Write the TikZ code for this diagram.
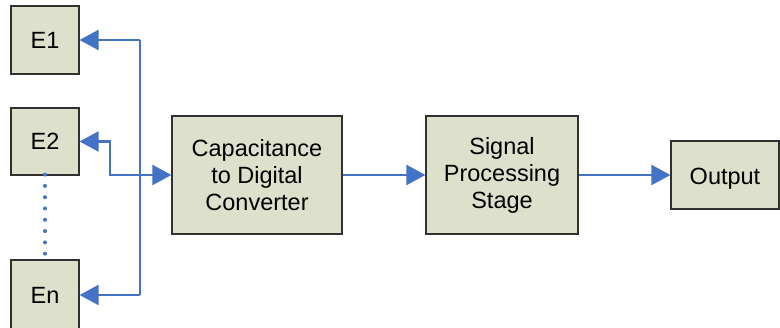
\documentclass[tikz,border=0pt]{standalone}
\usepackage{fontspec}
\setmainfont{Liberation Sans}
\usetikzlibrary{arrows.meta}
\definecolor{boxfill}{HTML}{DDE0CB}
\definecolor{boxedge}{HTML}{303030}
\definecolor{linkblue}{HTML}{4472C4}
\begin{document}
\begin{tikzpicture}[x=1pt,y=-1pt,
  blk/.style={draw=boxedge,line width=1.2pt,fill=boxfill,inner sep=0pt,align=center,
    font=\fontsize{23.5}{27}\selectfont},
  link/.style={draw=linkblue,line width=2.2pt},
  tip/.style={-{Triangle[length=19pt,width=20pt]}},
  tips/.style={{Triangle[length=19pt,width=20pt]}-{Triangle[length=19pt,width=20pt]}}]
\useasboundingbox (0,0) rectangle (780,328);
\clip (0,0) rectangle (780,328);
\node[blk,minimum width=68pt,minimum height=68pt] (e1) at (45,40) {E1};
\node[blk,minimum width=68pt,minimum height=67pt] (e2) at (45,141.5) {E2};
\node[blk,minimum width=68pt,minimum height=70pt] (en) at (45,295) {En};
\node[blk,minimum width=170pt,minimum height=118pt] (cdc) at (257,175) {Capacitance\\to Digital\\Converter};
\node[blk,minimum width=152pt,minimum height=118pt] (sps) at (502,175) {Signal\\Processing\\Stage};
\node[blk,minimum width=108pt,minimum height=68pt,text depth=0pt,yshift=0pt] (out) at (725,175) {\raisebox{-2pt}{Output}};
\coordinate (bt) at (140,40);
\coordinate (bb) at (140,295);
\coordinate (j) at (110,175);
\draw[link] (bt) -- (bb);
\draw[link,tip] (bt) -- (e1.east);
\draw[link,tip] (bb) -- (en.east);
\draw[link,tips] (e2.east) -| (j) -- (cdc.west);
\draw[link,tip] (cdc.east) -- (sps.west);
\draw[link,tip] (sps.east) -- (out.west);
\draw[linkblue,line width=4pt,line cap=round,dash pattern=on 0pt off 11.3pt] ([yshift=1pt]e2.south) -- ([yshift=-4pt]en.north);
\end{tikzpicture}
\end{document}
